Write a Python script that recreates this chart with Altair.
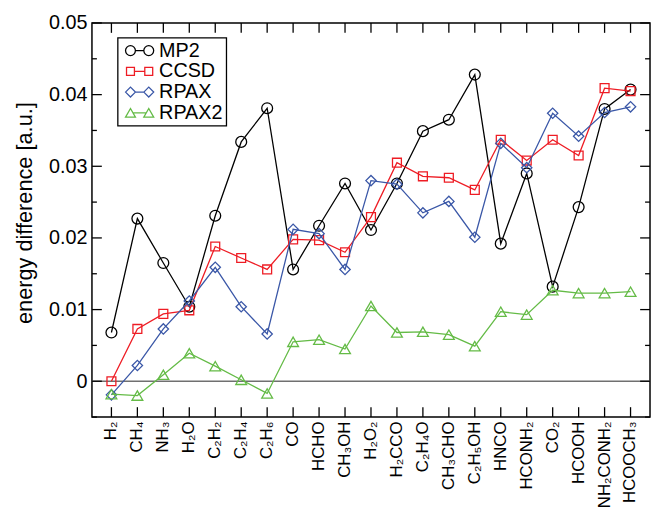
import altair as alt
import pandas as pd

FONT = "Liberation Sans"

molecules = ["H₂", "CH₄", "NH₃", "H₂O", "C₂H₂", "C₂H₄", "C₂H₆", "CO", "HCHO", "CH₃OH",
             "H₂O₂", "H₂CCO", "C₂H₄O", "CH₃CHO", "C₂H₅OH", "HNCO", "HCONH₂", "CO₂",
             "HCOOH", "NH₂CONH₂", "HCOOCH₃"]

mp2 = [0.0068, 0.0227, 0.0165, 0.0104, 0.0231, 0.0334, 0.0381, 0.0156, 0.0217, 0.0276,
       0.0211, 0.0276, 0.0349, 0.0365, 0.0428, 0.0192, 0.0290, 0.0132, 0.0243, 0.0380, 0.0407]
ccsd = [0.0000, 0.0073, 0.0094, 0.0099, 0.0188, 0.0172, 0.0156, 0.0198, 0.0197, 0.0180,
        0.0229, 0.0305, 0.0286, 0.0284, 0.0267, 0.0337, 0.0308, 0.0337, 0.0315, 0.0409, 0.0405]
rpax = [-0.0019, 0.0022, 0.0073, 0.0112, 0.0159, 0.0104, 0.0066, 0.0212, 0.0206, 0.0156,
        0.0280, 0.0275, 0.0235, 0.0251, 0.0201, 0.0332, 0.0298, 0.0374, 0.0342, 0.0375, 0.0383]
rpax2 = [-0.0018, -0.0020, 0.0009, 0.0039, 0.0021, 0.0002, -0.0017, 0.0055, 0.0058, 0.0045,
         0.0105, 0.0068, 0.0069, 0.0065, 0.0049, 0.0097, 0.0093, 0.0127, 0.0123, 0.0123, 0.0125]

series_names = ["MP2", "CCSD", "RPAX", "RPAX2"]
series_values = [mp2, ccsd, rpax, rpax2]
colors = ["#000000", "#ee1c24", "#3a57a7", "#64bb46"]
shapes = ["circle", "square", "diamond", "triangle-up"]
sizes = [121, 81, 110, 120]


def circle_path(cx):
    k = 0.5523
    return (f"M {cx+1} 0 C {cx+1} {k} {cx+k} 1 {cx} 1 C {cx-k} 1 {cx-1} {k} {cx-1} 0 "
            f"C {cx-1} {-k} {cx-k} -1 {cx} -1 C {cx+k} -1 {cx+1} {-k} {cx+1} 0 Z")


# legend glyphs: marker - line - marker
legend_paths = [
    circle_path(0) + " M 1 0 L 2.7 0 " + circle_path(3.7),
    "M -0.8 -0.8 L 0.8 -0.8 L 0.8 0.8 L -0.8 0.8 Z M 0.8 0 L 2.9 0 M 2.9 -0.8 L 4.5 -0.8 L 4.5 0.8 L 2.9 0.8 Z",
    "M -1 0 L 0 -1 L 1 0 L 0 1 Z M 1 0 L 2.7 0 M 2.7 0 L 3.7 -1 L 4.7 0 L 3.7 1 Z",
    "M 0 -0.87 L -1 0.87 L 1 0.87 Z M 0.5 0 L 3.2 0 M 3.7 -0.87 L 2.7 0.87 L 4.7 0.87 Z",
]

y_major = [0, 0.01, 0.02, 0.03, 0.04, 0.05]
y_minor = [-0.005, 0.005, 0.015, 0.025, 0.035, 0.045]

W, H = 565, 399

xscale = alt.Scale(domain=molecules, padding=0.5)
yscale = alt.Scale(domain=[-0.005, 0.05], nice=False, zero=False)

xaxis = alt.Axis(title=None, labelAngle=270, labelAlign="right", labelBaseline="middle",
                 labelPadding=4, labelFontSize=17, labelFont=FONT, labelColor="black",
                 ticks=False, domain=False, grid=False, labelOverlap=False, labelFlush=False)
yaxis = alt.Axis(title="energy difference [a.u.]", values=y_major,
                 labelExpr="datum.value == 0 ? '0' : format(datum.value, '.2f')",
                 ticks=False, domain=False, grid=False, labelPadding=5, labelFontSize=20,
                 labelFont=FONT, labelColor="black", labelOverlap=False,
                 titleFont=FONT, titleFontSize=22, titleFontWeight="normal", titleColor="black",
                 titleX=-61, titleY=192, titleAngle=270, titleAlign="center",
                 titleBaseline="alphabetic")

X = lambda: alt.X("mol:N", scale=xscale, axis=xaxis, sort=molecules)
Y = lambda: alt.Y("value:Q", scale=yscale, axis=yaxis)

layers = []

zero = alt.Chart(pd.DataFrame({"value": [0.0]})).mark_rule(
    color="#707070", strokeWidth=1.5).encode(y=Y())
layers.append(zero)

for name, vals, col, shp, sz in zip(series_names, series_values, colors, shapes, sizes):
    df = pd.DataFrame({"mol": molecules, "value": vals, "idx": list(range(len(molecules)))})
    base = alt.Chart(df)
    layers.append(base.mark_line(color=col, strokeWidth=1.3).encode(
        x=X(), y=Y(), order=alt.Order("idx:Q")))
    layers.append(base.mark_point(shape=shp, filled=False, size=sz, strokeWidth=1.3,
                                  color=col, opacity=1).encode(x=X(), y=Y()))

# tick marks (inward)
maj = pd.DataFrame({"value": y_major})
mnr = pd.DataFrame({"value": y_minor})
cats = pd.DataFrame({"mol": molecules})
tick_style = dict(color="black", strokeWidth=1.3)
layers.append(alt.Chart(maj).mark_rule(**tick_style).encode(y=Y(), x=alt.value(0), x2=alt.value(10)))
layers.append(alt.Chart(mnr).mark_rule(**tick_style).encode(y=Y(), x=alt.value(0), x2=alt.value(5)))
layers.append(alt.Chart(maj).mark_rule(**tick_style).encode(y=Y(), x=alt.value(W), x2=alt.value(W - 10)))
layers.append(alt.Chart(mnr).mark_rule(**tick_style).encode(y=Y(), x=alt.value(W), x2=alt.value(W - 5)))
layers.append(alt.Chart(cats).mark_rule(**tick_style).encode(x=X(), y=alt.value(0), y2=alt.value(10)))
layers.append(alt.Chart(cats).mark_rule(**tick_style).encode(x=X(), y=alt.value(H), y2=alt.value(H - 10)))

leg = alt.Legend(title=None, orient="none", legendX=26, legendY=15, padding=3,
                 labelFontSize=20, labelFont=FONT, labelColor="black", labelOffset=19,
                 labelExpr="datum.label + '  '",
                 symbolSize=100, symbolStrokeWidth=1.3, rowPadding=1,
                 strokeColor="black", fillColor="white", cornerRadius=0)
legend_layer = alt.Chart(pd.DataFrame({"series": series_names})).transform_filter(
    "false").mark_point(filled=False, size=100, strokeWidth=1.3, opacity=1).encode(
    color=alt.Color("series:N", scale=alt.Scale(domain=series_names, range=colors), legend=leg),
    shape=alt.Shape("series:N", scale=alt.Scale(domain=series_names, range=legend_paths), legend=leg),
)
layers.append(legend_layer)

chart = alt.layer(*layers).properties(
    width=W, height=H,
    padding={"left": 85, "top": 12, "right": 1, "bottom": 96},
    autosize=alt.AutoSizeParams(type="none"),
    background="white",
).configure(font=FONT).configure_view(stroke="black", strokeWidth=1.5).configure_legend(strokeWidth=1.3)

chart.save("out.html", embed_options={"renderer": "svg", "actions": False})
